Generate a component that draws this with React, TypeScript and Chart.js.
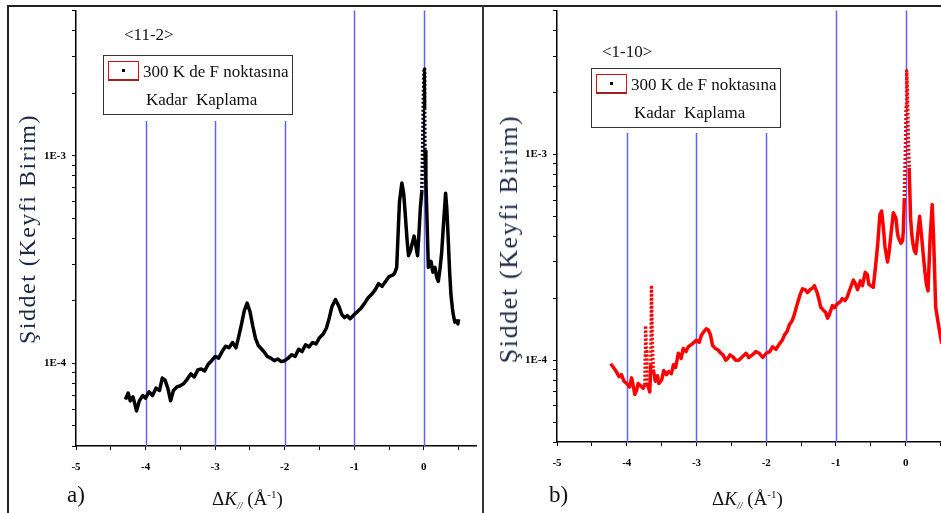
import React, { useEffect, useRef } from 'react';
import { Chart, registerables } from 'chart.js';

Chart.register(...registerables);

// ---------- DATA ----------
// Panel a) <11-2> (black curve)
const aX = [
  -4.29, -4.25, -4.22, -4.18, -4.13, -4.09, -4.04, -4.0, -3.95, -3.9, -3.85, -3.8, -3.76, -3.72, -3.68, -3.64, -3.6,
  -3.55, -3.5, -3.45, -3.4, -3.35, -3.3, -3.25, -3.2, -3.15, -3.1, -3.05, -3.0, -2.95, -2.9, -2.85, -2.8, -2.75, -2.7,
  -2.66, -2.62, -2.58, -2.54, -2.5, -2.46, -2.42, -2.38, -2.34, -2.3, -2.25, -2.2, -2.15, -2.1, -2.05, -2.0, -1.95,
  -1.9, -1.85, -1.8, -1.75, -1.7, -1.65, -1.6, -1.55, -1.5, -1.45, -1.4, -1.36, -1.32, -1.27, -1.22, -1.18, -1.14,
  -1.1, -1.06, -1.0, -0.95, -0.9, -0.85, -0.8, -0.75, -0.7, -0.65, -0.6, -0.55, -0.5, -0.45, -0.42, -0.39, -0.37,
  -0.35, -0.316, -0.29, -0.27, -0.24, -0.22, -0.19, -0.17, -0.14, -0.11, -0.09, -0.07, -0.05, -0.03, -0.015, -0.005,
  0.004, 0.012, 0.017, 0.03, 0.041, 0.065, 0.085, 0.103, 0.13, 0.16, 0.185, 0.208, 0.235, 0.256, 0.285, 0.313, 0.33,
  0.35, 0.37, 0.39, 0.41, 0.423, 0.445, 0.47, 0.49, 0.5,
];
const aY = [
  6.7e-5, 7.2e-5, 6.6e-5, 6.9e-5, 5.9e-5, 6.6e-5, 7.0e-5, 6.8e-5, 7.3e-5, 7.0e-5, 7.6e-5, 7.4e-5, 8.5e-5, 8.3e-5,
  7.6e-5, 6.6e-5, 7.4e-5, 7.7e-5, 7.8e-5, 8.0e-5, 8.4e-5, 8.9e-5, 8.6e-5, 9.3e-5, 9.4e-5, 9.2e-5, 9.9e-5, 1.03e-4,
  1.08e-4, 1.06e-4, 1.14e-4, 1.21e-4, 1.19e-4, 1.26e-4, 1.19e-4, 1.35e-4, 1.55e-4, 1.8e-4, 1.95e-4, 1.78e-4,
  1.52e-4, 1.32e-4, 1.22e-4, 1.18e-4, 1.14e-4, 1.08e-4, 1.06e-4, 1.03e-4, 1.05e-4, 1.02e-4, 1.03e-4, 1.06e-4,
  1.1e-4, 1.08e-4, 1.17e-4, 1.14e-4, 1.23e-4, 1.2e-4, 1.26e-4, 1.24e-4, 1.33e-4, 1.38e-4, 1.48e-4, 1.65e-4,
  1.88e-4, 2.03e-4, 1.88e-4, 1.72e-4, 1.66e-4, 1.7e-4, 1.64e-4, 1.72e-4, 1.78e-4, 1.85e-4, 1.95e-4, 2.07e-4,
  2.15e-4, 2.26e-4, 2.42e-4, 2.35e-4, 2.48e-4, 2.62e-4, 2.66e-4, 2.72e-4, 2.9e-4, 4.2e-4, 6.0e-4, 7.4e-4, 6.6e-4,
  5.4e-4, 3.9e-4, 3.3e-4, 3.5e-4, 3.75e-4, 4.1e-4, 3.6e-4, 3.3e-4, 4.2e-4, 5.6e-4, 6.7e-4, 1.2e-3, 2.0e-3, 2.62e-3,
  1.7e-3, 1.05e-3, 7.5e-4, 5.6e-4, 2.9e-4, 2.95e-4, 3.1e-4, 2.75e-4, 2.9e-4, 2.6e-4, 2.48e-4, 2.9e-4, 3.4e-4,
  4.8e-4, 6.6e-4, 5.6e-4, 4.0e-4, 2.8e-4, 2.14e-4, 1.85e-4, 1.72e-4, 1.58e-4, 1.6e-4, 1.55e-4, 1.63e-4,
];
const aDotted = [[-0.031, 0.031]];
const aRefLines = [
  { x: -4, top: 1.47e-3 },
  { x: -3, top: 1.47e-3 },
  { x: -2, top: 1.47e-3 },
  { x: -1, top: 5e-3 },
  { x: 0, top: 5e-3 },
];

// Panel b) <1-10> (red curve)
const bX = [
  -4.23, -4.19, -4.15, -4.11, -4.076, -4.04, -4.0, -3.96, -3.93, -3.9, -3.885, -3.86, -3.837, -3.8, -3.765, -3.74,
  -3.735, -3.73, -3.72, -3.71, -3.69, -3.67, -3.655, -3.645, -3.635, -3.62, -3.59, -3.56, -3.54, -3.5, -3.47, -3.43,
  -3.4, -3.36, -3.33, -3.3, -3.26, -3.22, -3.19, -3.15, -3.12, -3.06, -3.0, -2.96, -2.93, -2.89, -2.86, -2.83, -2.8,
  -2.77, -2.73, -2.69, -2.65, -2.62, -2.58, -2.55, -2.52, -2.48, -2.44, -2.39, -2.34, -2.29, -2.25, -2.2, -2.15,
  -2.1, -2.05, -2.0, -1.95, -1.91, -1.86, -1.81, -1.77, -1.74, -1.7, -1.67, -1.63, -1.6, -1.57, -1.54, -1.51, -1.48,
  -1.44, -1.41, -1.37, -1.33, -1.31, -1.27, -1.24, -1.22, -1.18, -1.15, -1.12, -1.1, -1.05, -1.02, -0.98, -0.94,
  -0.91, -0.87, -0.84, -0.79, -0.75, -0.72, -0.69, -0.65, -0.62, -0.58, -0.55, -0.53, -0.5, -0.465, -0.43, -0.4,
  -0.37, -0.345, -0.32, -0.297, -0.26, -0.236, -0.216, -0.178, -0.14, -0.12, -0.106, -0.068, -0.045, -0.034, -0.02,
  -0.005, 0.006, 0.014, 0.025, 0.035, 0.05, 0.07, 0.09, 0.106, 0.125, 0.145, 0.17, 0.2, 0.225, 0.25, 0.275, 0.297,
  0.32, 0.35, 0.38, 0.4, 0.43, 0.46, 0.5, 0.52,
];
const bY = [
  9.6e-5, 9.2e-5, 8.8e-5, 8.3e-5, 8.5e-5, 7.9e-5, 7.7e-5, 7.4e-5, 8.2e-5, 7.3e-5, 6.8e-5, 7.1e-5, 7.7e-5, 7.5e-5,
  7.3e-5, 7.6e-5, 1.05e-4, 1.47e-4, 1.1e-4, 7.7e-5, 7.4e-5, 7.0e-5, 9.5e-5, 2.26e-4, 1.3e-4, 9.0e-5, 7.9e-5, 8.4e-5,
  7.7e-5, 8.0e-5, 8.9e-5, 8.5e-5, 8.8e-5, 8.6e-5, 9.5e-5, 9.2e-5, 1.08e-4, 1.02e-4, 1.14e-4, 1.1e-4, 1.16e-4,
  1.2e-4, 1.25e-4, 1.22e-4, 1.32e-4, 1.38e-4, 1.42e-4, 1.4e-4, 1.33e-4, 1.18e-4, 1.14e-4, 1.12e-4, 1.08e-4,
  1.06e-4, 1.0e-4, 1.02e-4, 1.06e-4, 1.04e-4, 1.0e-4, 1.0e-4, 1.04e-4, 1.08e-4, 1.03e-4, 1.06e-4, 1.1e-4, 1.08e-4,
  1.03e-4, 1.08e-4, 1.1e-4, 1.16e-4, 1.13e-4, 1.2e-4, 1.25e-4, 1.32e-4, 1.38e-4, 1.48e-4, 1.55e-4, 1.65e-4, 1.8e-4,
  1.95e-4, 2.1e-4, 2.22e-4, 2.2e-4, 2.13e-4, 2.2e-4, 2.25e-4, 2.3e-4, 2.13e-4, 1.95e-4, 1.81e-4, 1.75e-4, 1.71e-4,
  1.6e-4, 1.65e-4, 1.84e-4, 1.8e-4, 1.88e-4, 1.92e-4, 1.99e-4, 1.95e-4, 2.02e-4, 2.26e-4, 2.45e-4, 2.35e-4, 2.2e-4,
  2.43e-4, 2.3e-4, 2.67e-4, 2.6e-4, 2.34e-4, 2.3e-4, 2.26e-4, 2.9e-4, 3.7e-4, 5.1e-4, 5.3e-4, 4.4e-4, 3.55e-4,
  3.0e-4, 3.4e-4, 3.95e-4, 5.2e-4, 4.9e-4, 4.2e-4, 3.95e-4, 3.7e-4, 3.8e-4, 4.25e-4, 6.0e-4, 1.0e-3, 1.7e-3,
  2.55e-3, 2.0e-3, 1.3e-3, 8.6e-4, 4.9e-4, 4.0e-4, 3.65e-4, 3.4e-4, 3.3e-4, 4.0e-4, 5.0e-4, 4.1e-4, 3.3e-4, 2.7e-4,
  2.34e-4, 2.17e-4, 3.93e-4, 5.7e-4, 3.93e-4, 1.81e-4, 1.56e-4, 1.29e-4, 1.2e-4,
];
const bDotted = [[-0.021, 0.06], [-3.745, -3.705], [-3.66, -3.615]];
const bRefLines = [
  { x: -4, top: 1.27e-3 },
  { x: -3, top: 1.27e-3 },
  { x: -2, top: 1.27e-3 },
  { x: -1, top: 5e-3 },
  { x: 0, top: 5e-3 },
];

// Axis ticks
const xTickValues = [-5, -4.5, -4, -3.5, -3, -2.5, -2, -1.5, -1, -0.5, 0, 0.5];
const xMin = -5;
const xMax = 0.75;
const yTickValues = [
  4e-5, 5e-5, 6e-5, 7e-5, 8e-5, 9e-5, 1e-4, 2e-4, 3e-4, 4e-4, 5e-4, 6e-4, 7e-4, 8e-4, 9e-4, 1e-3, 2e-3, 3e-3, 4e-3, 5e-3,
];
const yTickLabels: Record<string, string> = { '0.0001': '1E-4', '0.001': '1E-3' };
const yMin = 4e-5;
const yMax = 5e-3;

const legendLine1 = '300 K de F noktas\u0131na';
const legendLine2 = 'Kadar  Kaplama';
const yTitle = '\u015Eiddet (Keyfi Birim)';

const SERIF = '"Liberation Serif", "Times New Roman", serif';

// ---------- CHART ----------
const refLinesPlugin = {
  id: 'refLines',
  beforeDatasetsDraw(chart: any, _args: any, opts: any) {
    const { ctx, scales } = chart;
    const x = scales.x;
    const y = scales.y;
    ctx.save();
    ctx.strokeStyle = opts.color;
    ctx.lineWidth = opts.width;
    (opts.lines || []).forEach((l: any) => {
      const px = Math.round(x.getPixelForValue(l.x)) + 0.5;
      ctx.beginPath();
      ctx.moveTo(px, y.getPixelForValue(l.top));
      ctx.lineTo(px, y.bottom);
      ctx.stroke();
    });
    ctx.restore();
  },
};

type PanelProps = {
  xs: number[];
  ys: number[];
  color: string;
  dotted: number[][];
  refLines: { x: number; top: number }[];
  left: number;
  top: number;
  width: number;
  height: number;
  yAxisWidth: number;
  xAxisHeight: number;
  padRight: number;
};

function ChartCanvas(p: PanelProps) {
  const ref = useRef<HTMLCanvasElement | null>(null);
  useEffect(() => {
    if (!ref.current) return;
    const data = p.xs.map((x, i) => ({ x, y: p.ys[i] }));
    const inDotted = (a: number, b: number) =>
      p.dotted.some(([lo, hi]) => a >= lo && a <= hi && b >= lo && b <= hi);
    const tickFont = { family: SERIF, size: 11, weight: 'bold' as const };
    const chart = new Chart(ref.current, {
      type: 'line',
      data: {
        datasets: [
          {
            data,
            borderColor: p.color,
            borderWidth: 3.5,
            pointRadius: 0,
            tension: 0,
            fill: false,
            borderJoinStyle: 'round',
            segment: {
              borderDash: (ctx: any) => (inDotted(ctx.p0.parsed.x, ctx.p1.parsed.x) ? [2, 2] : undefined),
            },
          } as any,
        ],
      },
      options: {
        animation: false,
        responsive: false,
        devicePixelRatio: 1,
        layout: { padding: { top: 0, right: p.padRight, left: 0, bottom: 0 } },
        plugins: {
          legend: { display: false },
          tooltip: { enabled: false },
          refLines: { lines: p.refLines, color: 'rgb(98,98,255)', width: 1.5 },
        } as any,
        scales: {
          x: {
            type: 'linear',
            min: xMin,
            max: xMax,
            afterBuildTicks: (s: any) => {
              s.ticks = xTickValues.map((v) => ({ value: v }));
            },
            afterFit: (s: any) => {
              s.height = p.xAxisHeight;
            },
            ticks: {
              autoSkip: false,
              maxRotation: 0,
              font: tickFont,
              color: '#000',
              padding: 11,
              callback: (v: any) => (Number.isInteger(Number(v)) ? String(v) : ''),
            },
            grid: { display: true, drawOnChartArea: false, drawTicks: true, tickLength: 4, tickColor: '#000', tickWidth: 1 },
            border: { display: true, color: '#000', width: 1.5 },
          },
          y: {
            type: 'logarithmic',
            min: yMin,
            max: yMax,
            afterBuildTicks: (s: any) => {
              s.ticks = yTickValues.map((v) => ({ value: v }));
            },
            afterFit: (s: any) => {
              s.width = p.yAxisWidth;
            },
            ticks: {
              autoSkip: false,
              font: tickFont,
              color: '#000',
              padding: 6,
              callback: (v: any) => yTickLabels[String(Number(v))] || '',
            },
            grid: { display: true, drawOnChartArea: false, drawTicks: true, tickLength: 4, tickColor: '#000', tickWidth: 1 },
            border: { display: true, color: '#000', width: 1.5 },
          },
        },
      },
      plugins: [refLinesPlugin as any],
    });
    return () => chart.destroy();
  }, []);
  return (
    <canvas
      ref={ref}
      width={p.width}
      height={p.height}
      style={{ position: 'absolute', left: p.left, top: p.top, width: p.width, height: p.height }}
    />
  );
}

function Legend({ left, top, boxTop }: { left: number; top: number; boxTop: number }) {
  return (
    <div
      style={{
        position: 'absolute',
        left,
        top,
        width: 190,
        height: 60,
        boxSizing: 'border-box',
        border: '1.5px solid #333',
        background: '#fff',
        fontFamily: SERIF,
        fontSize: 17,
        lineHeight: '19px',
        color: '#111',
      }}
    >
      <div
        style={{
          position: 'absolute',
          left: 4,
          top: boxTop,
          width: 31,
          height: 20,
          boxSizing: 'border-box',
          border: '1.5px solid #e01010',
          borderBottom: '2px solid #a02020',
        }}
      >
        <div style={{ position: 'absolute', left: 13, top: 7, width: 3, height: 3, background: '#000' }} />
      </div>
      <div style={{ position: 'absolute', left: 39, top: boxTop + 1, whiteSpace: 'pre' }}>{legendLine1}</div>
      <div style={{ position: 'absolute', left: 42, top: boxTop + 29, whiteSpace: 'pre' }}>{legendLine2}</div>
    </div>
  );
}

function XTitle({ left, top }: { left: number; top: number }) {
  return (
    <div
      style={{
        position: 'absolute',
        left,
        top,
        fontFamily: SERIF,
        fontSize: 19,
        lineHeight: '19px',
        whiteSpace: 'nowrap',
        color: '#111',
      }}
    >
      {'\u0394'}
      <i>K</i>
      <sub style={{ fontSize: 10, fontStyle: 'italic', verticalAlign: -4 }}>//</sub>
      {'\u00A0(\u00C5'}
      <sup style={{ fontSize: 11, verticalAlign: 7 }}>-1</sup>
      {')'}
    </div>
  );
}

function YTitle({ cx, cy, size, spacing }: { cx: number; cy: number; size: number; spacing: number }) {
  return (
    <div
      style={{
        position: 'absolute',
        left: cx,
        top: cy,
        transform: 'translate(-50%, -50%) rotate(-90deg)',
        fontFamily: SERIF,
        fontSize: size,
        letterSpacing: spacing,
        lineHeight: 1,
        whiteSpace: 'nowrap',
        color: '#1d2747',
      }}
    >
      {yTitle}
    </div>
  );
}

export default function App() {
  return (
    <div
      style={{
        position: 'fixed',
        left: 0,
        top: 0,
        width: 941,
        height: 513,
        overflow: 'hidden',
        background: '#fff',
      }}
    >
      {/* frames */}
      <div style={{ position: 'absolute', left: 8, top: 5, width: 1000, height: 2, background: '#222' }} />
      <div style={{ position: 'absolute', left: 7, top: 5, width: 2, height: 520, background: '#222' }} />
      <div style={{ position: 'absolute', left: 482, top: 5, width: 2, height: 520, background: '#333' }} />

      {/* panel a */}
      <ChartCanvas
        xs={aX}
        ys={aY}
        color="#000"
        dotted={aDotted}
        refLines={aRefLines}
        left={9}
        top={-2}
        width={471}
        height={508}
        yAxisWidth={67}
        xAxisHeight={60}
        padRight={4}
      />
      <div style={{ position: 'absolute', left: 124, top: 25, fontFamily: SERIF, fontSize: 17, lineHeight: '19px', color: '#111' }}>
        {'<11-2>'}
      </div>
      <Legend left={103} top={55} boxTop={5} />
      <YTitle cx={27} cy={229} size={24} spacing={1.5} />
      <XTitle left={212} top={485} />
      <div style={{ position: 'absolute', left: 67, top: 483, fontFamily: SERIF, fontSize: 23, lineHeight: '23px', color: '#111' }}>
        a)
      </div>

      {/* panel b */}
      <ChartCanvas
        xs={bX}
        ys={bY}
        color="#ff0000"
        dotted={bDotted}
        refLines={bRefLines}
        left={484}
        top={-2}
        width={480}
        height={508}
        yAxisWidth={73}
        xAxisHeight={64}
        padRight={6}
      />
      <div style={{ position: 'absolute', left: 602, top: 42, fontFamily: SERIF, fontSize: 17, lineHeight: '19px', color: '#111' }}>
        {'<1-10>'}
      </div>
      <Legend left={591} top={68} boxTop={5} />
      <YTitle cx={509} cy={239} size={26} spacing={1.6} />
      <XTitle left={712} top={485} />
      <div style={{ position: 'absolute', left: 549, top: 483, fontFamily: SERIF, fontSize: 23, lineHeight: '23px', color: '#111' }}>
        b)
      </div>
    </div>
  );
}
